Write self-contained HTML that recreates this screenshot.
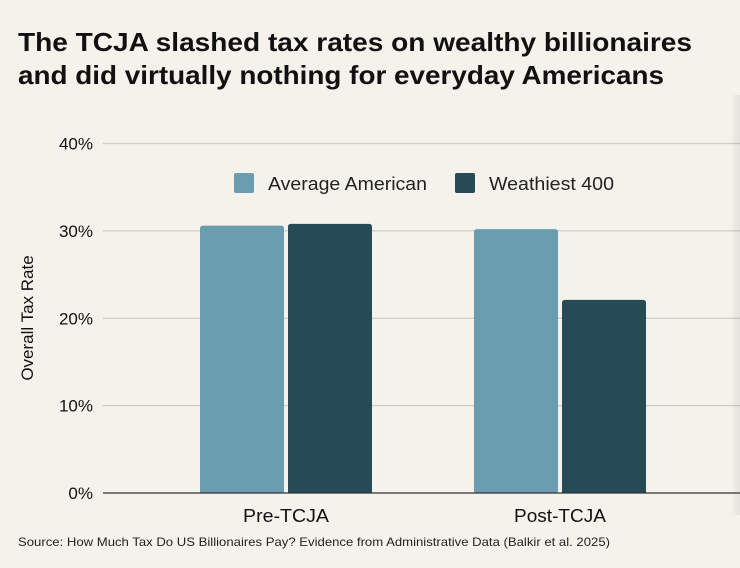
<!DOCTYPE html>
<html><head><meta charset="utf-8"><style>
html,body{margin:0;padding:0;background:#f5f2eb;}
body{width:740px;height:568px;overflow:hidden;position:relative;font-family:"Liberation Sans",sans-serif;}
.shade{position:absolute;right:0;top:95px;width:10px;height:420px;background:linear-gradient(to right,rgba(0,0,0,0),rgba(0,0,0,0.07));}
</style></head><body>
<svg width="740" height="568" style="position:absolute;left:0;top:0">
<text x="18" y="51" font-size="26" font-weight="bold" fill="#111" textLength="674" lengthAdjust="spacingAndGlyphs">The TCJA slashed tax rates on wealthy billionaires</text>
<text x="18" y="84" font-size="26" font-weight="bold" fill="#111" textLength="646" lengthAdjust="spacingAndGlyphs">and did virtually nothing for everyday Americans</text>
<g id="grid"></g>
<g id="bars"></g>
<line x1="103" x2="740" y1="493" y2="493" stroke="#333" stroke-width="1.3"/>
<g id="xl"></g>
<text transform="translate(33,318) rotate(-90)" text-anchor="middle" font-size="17" fill="#111">Overall Tax Rate</text>
<rect x="234" y="173" width="20" height="20" rx="2" fill="#6a9db0"/>
<text x="268" y="190" font-size="18" fill="#222" textLength="159" lengthAdjust="spacingAndGlyphs">Average American</text>
<rect x="455" y="173" width="20" height="20" rx="2" fill="#264b56"/>
<text x="489" y="190" font-size="18" fill="#222" textLength="125" lengthAdjust="spacingAndGlyphs">Weathiest 400</text>
<text x="18" y="546" font-size="12" fill="#222" textLength="592" lengthAdjust="spacingAndGlyphs">Source: How Much Tax Do US Billionaires Pay? Evidence from Administrative Data (Balkir et al. 2025)</text>
</svg>
<div class="shade"></div>
<script>
const categories=["Pre-TCJA","Post-TCJA"];
const averageAmerican=[30.6,30.2];
const wealthiest400=[30.8,22.1];
const yTicks=[0,10,20,30,40];
const y=v=>493-v*(493-143.5)/40;
const cx=i=>286+i*274;
const NS="http://www.w3.org/2000/svg";
function mk(t,a,p){const e=document.createElementNS(NS,t);for(const k in a)e.setAttribute(k,a[k]);p.appendChild(e);return e;}
const g=document.getElementById('grid');
yTicks.forEach(v=>{
 if(v>0){const l=mk('line',{x1:103,x2:740,y1:y(v),y2:y(v),stroke:'#cfccc6','stroke-width':1.2},g);
 
 }
 const t=mk('text',{x:93,y:y(v)+6,'text-anchor':'end','font-size':17,fill:'#111'},g);t.textContent=v+'%';
 
 
});
const b=document.getElementById('bars');
function bar(x,v,c){
 const p=mk('path',{d:`M${x},493V${y(v)+3}Q${x},${y(v)} ${x+3},${y(v)}H${x+81}Q${x+84},${y(v)} ${x+84},${y(v)+3}V493Z`,fill:c},b);
 return p;}
const labelLens=[86,92];
categories.forEach((c,i)=>{
 const a=bar(cx(i)-86,averageAmerican[i],'#6a9db0');
 
 
 const w=bar(cx(i)+2,wealthiest400[i],'#264b56');
 
 
 const t=mk('text',{x:cx(i),y:522,'text-anchor':'middle','font-size':18,fill:'#111',textLength:labelLens[i],lengthAdjust:'spacingAndGlyphs'},document.getElementById('xl'));
 t.textContent=c;
 
 
});
</script>
</body></html>
